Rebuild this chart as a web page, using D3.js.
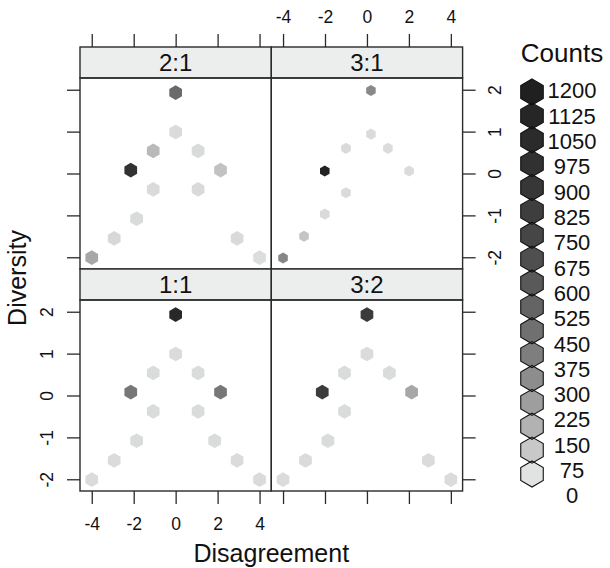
<!DOCTYPE html>
<html>
<head>
<meta charset="utf-8">
<script src="https://cdn.jsdelivr.net/npm/d3@7"></script>
<style>
  body { margin: 0; background: #fff; }
  svg { font-family: "Liberation Sans", Arial, sans-serif; }
</style>
</head>
<body>
<svg width="610" height="568"></svg>
<script>
// hexbin cells per panel: [disagreement, diversity, count]
const panels = ["2:1", "3:1", "1:1", "3:2"];

const cells21 = [
  [0, 1.93, 490], [0, 0.99, 20], [-1.07, 0.54, 125], [1.07, 0.54, 25],
  [-2.14, 0.08, 960], [2.14, 0.08, 95], [-1.07, -0.38, 25], [1.07, -0.38, 25],
  [-1.86, -1.08, 25], [-2.93, -1.55, 30], [-4, -2.01, 190], [2.93, -1.55, 25],
  [4, -2.01, 15]
];
const cells31 = [
  [0.19, 1.98, 320], [0.19, 0.94, 20], [-1, 0.6, 25], [1, 0.6, 20],
  [-2.01, 0.06, 1180], [2.01, 0.06, 20], [-1, -0.46, 25], [-2.01, -0.97, 25],
  [-3, -1.5, 90], [-4, -2.02, 330]
];
const cells11 = [
  [0, 1.93, 1090], [0, 0.99, 20], [-1.07, 0.54, 20], [1.07, 0.54, 20],
  [-2.14, 0.08, 410], [2.14, 0.08, 410], [-1.07, -0.38, 20], [1.07, -0.38, 20],
  [-1.86, -1.08, 20], [1.86, -1.08, 20], [-2.93, -1.55, 20], [2.93, -1.55, 20],
  [-4, -2.01, 20], [4, -2.01, 20]
];
const cells32 = [
  [0, 1.93, 860], [0, 0.99, 20], [-1.07, 0.54, 20], [1.07, 0.54, 20],
  [-2.13, 0.08, 860], [2.13, 0.08, 190], [-1.07, -0.38, 20], [-1.86, -1.08, 20],
  [-2.93, -1.55, 20], [2.93, -1.55, 20], [-4, -2.01, 20], [4, -2.01, 20]
];
const cellsByPanel = {"2:1": cells21, "3:1": cells31, "1:1": cells11, "3:2": cells32};

const xTicks = [-4, -2, 0, 2, 4];
const yTicks = [-2, -1, 0, 1, 2];

const legendCounts = [1200, 1125, 1050, 975, 900, 825, 750, 675, 600, 525, 450, 375, 300, 225, 150, 75, 0];
const legendColors = ["#202020", "#262626", "#2b2b2b", "#313131", "#373737", "#3e3e3e", "#464646", "#4f4f4f",
  "#595959", "#646464", "#707070", "#7e7e7e", "#8d8d8d", "#9e9e9e", "#b2b2b2", "#c8c8c8", "#e1e3e3"];

const svg = d3.select("svg");
const panelW = 191.3, panelH = 191, stripH = 31;
const originX = 80, originY = 47;
const ink = "#2a2a2a";

const x = d3.scaleLinear().domain([-4.56, 4.56]).range([0, panelW]);
const y = d3.scaleLinear().domain([-2.28, 2.28]).range([panelH, 0]);
const color = d3.scaleLinear().domain(legendCounts).range(legendColors).clamp(true);
const fmt = d => String(d);

function hexPath(r) {
  const pts = d3.range(6).map(i => {
    const a = Math.PI / 3 * i - Math.PI / 2;
    return [r * Math.cos(a), r * Math.sin(a)];
  });
  return "M" + pts.join("L") + "Z";
}

function styleAxis(sel, labels) {
  sel.select(".domain").remove();
  sel.selectAll("line").attr("stroke", ink).attr("stroke-width", 1.3);
  sel.selectAll("text").attr("fill", "#111").style("font-size", "17.5px");
  if (!labels) sel.selectAll("text").remove();
}

panels.forEach((p, i) => {
  const col = i % 2, row = Math.floor(i / 2);
  const g = svg.append("g")
    .attr("transform", `translate(${originX + col * panelW},${originY + row * (stripH + panelH)})`);

  g.append("rect")
    .attr("width", panelW).attr("height", stripH)
    .attr("fill", "#eceeee").attr("stroke", ink).attr("stroke-width", 1.4);
  g.append("text")
    .attr("x", panelW / 2).attr("y", 24.2)
    .attr("text-anchor", "middle")
    .style("font-size", "24px")
    .attr("fill", "#111")
    .text(p);

  const cells = cellsByPanel[p];
  const ext = d3.extent(cells, d => d[0]);
  const r = 0.0437 * (x(ext[1]) - x(ext[0]));

  g.append("g")
    .attr("transform", `translate(0,${stripH})`)
    .selectAll("path")
    .data(cells)
    .enter().append("path")
    .attr("transform", d => `translate(${x(d[0])},${y(d[1])})`)
    .attr("d", hexPath(r))
    .attr("fill", d => color(d[2]));

  g.append("rect")
    .attr("y", stripH)
    .attr("width", panelW).attr("height", panelH)
    .attr("fill", "none").attr("stroke", ink).attr("stroke-width", 1.4);

  if (row === 0) {
    g.append("g")
      .call(d3.axisTop(x).tickValues(xTicks).tickFormat(fmt).tickSize(13).tickSizeOuter(0).tickPadding(11.3))
      .call(s => styleAxis(s, col === 1));
  } else {
    g.append("g")
      .attr("transform", `translate(0,${stripH + panelH})`)
      .call(d3.axisBottom(x).tickValues(xTicks).tickFormat(fmt).tickSize(13).tickSizeOuter(0).tickPadding(14))
      .call(s => styleAxis(s, col === 0));
  }

  if (col === 0) {
    g.append("g")
      .attr("transform", `translate(0,${stripH})`)
      .call(d3.axisLeft(y).tickValues(yTicks).tickFormat(fmt).tickSize(13).tickSizeOuter(0))
      .call(s => styleAxis(s, row === 1))
      .selectAll("text")
      .attr("x", null).attr("dy", null)
      .attr("text-anchor", "middle")
      .attr("transform", "translate(-27.3,0) rotate(-90)");
  } else {
    g.append("g")
      .attr("transform", `translate(${panelW},${stripH})`)
      .call(d3.axisRight(y).tickValues(yTicks).tickFormat(fmt).tickSize(13).tickSizeOuter(0))
      .call(s => styleAxis(s, row === 0))
      .selectAll("text")
      .attr("x", null).attr("dy", null)
      .attr("text-anchor", "middle")
      .attr("transform", "translate(38,0) rotate(-90)");
  }
});

// axis titles
svg.append("text")
  .attr("x", originX + panelW)
  .attr("y", 561.7)
  .attr("text-anchor", "middle")
  .style("font-size", "25px")
  .attr("fill", "#111")
  .text("Disagreement");

svg.append("text")
  .attr("transform", "translate(26,278) rotate(-90)")
  .attr("text-anchor", "middle")
  .style("font-size", "25px")
  .attr("fill", "#111")
  .text("Diversity");

// legend
const hexY = d3.scaleLinear().domain([1200, 0]).range([92, 474]);
const labelY = d3.scaleLinear().domain([1200, 0]).range([90.7, 495.7]);

svg.append("text")
  .attr("x", 562).attr("y", 62)
  .attr("text-anchor", "middle")
  .style("font-size", "26px")
  .attr("fill", "#111")
  .text("Counts");

const legend = svg.append("g");
legend.selectAll(".lhex")
  .data(legendCounts)
  .enter().append("path")
  .attr("class", "lhex")
  .attr("transform", d => `translate(532,${hexY(d)})`)
  .attr("d", hexPath(13))
  .attr("fill", d => color(d));
legend.selectAll(".lhexo")
  .data(legendCounts)
  .enter().append("path")
  .attr("class", "lhexo")
  .attr("transform", d => `translate(532,${hexY(d)})`)
  .attr("d", hexPath(13))
  .attr("fill", "none")
  .attr("stroke", "#111")
  .attr("stroke-width", 1.1);
legend.selectAll(".llab")
  .data(legendCounts)
  .enter().append("text")
  .attr("class", "llab")
  .attr("x", 572)
  .attr("y", d => labelY(d))
  .attr("dy", "0.35em")
  .attr("text-anchor", "middle")
  .style("font-size", "22px")
  .attr("fill", "#111")
  .text(d => d);
</script>
</body>
</html>
